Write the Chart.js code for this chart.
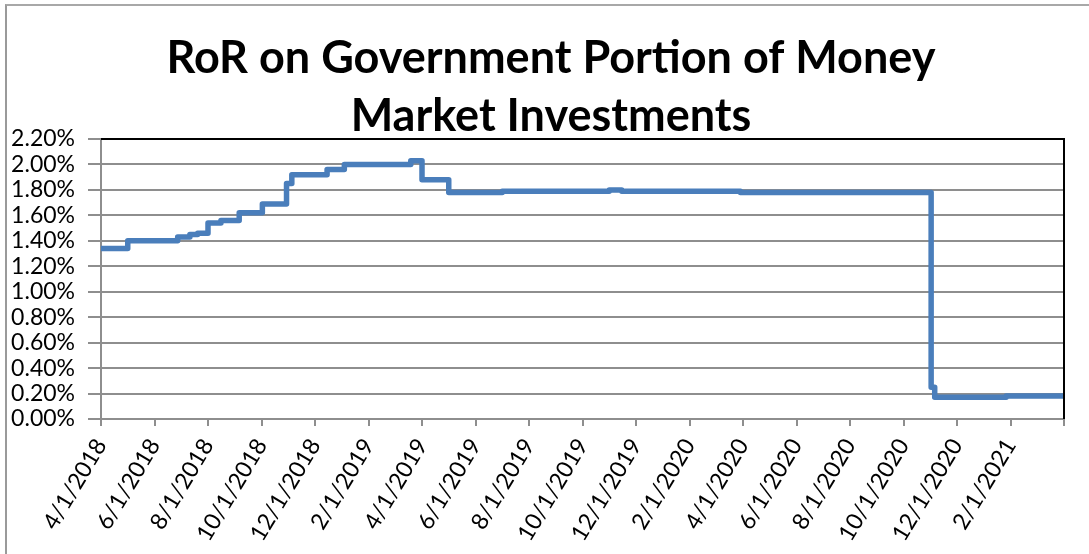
<!DOCTYPE html>
<html>
<head>
<meta charset="utf-8">
<title>RoR on Government Portion of Money Market Investments</title>
<script src="https://cdn.jsdelivr.net/npm/chart.js@4.4.1/dist/chart.umd.min.js"></script>
<style>
	html, body { margin: 0; padding: 0; background: #fff; }
	#wrap { position: relative; width: 1089px; height: 554px; overflow: hidden; }
	#frame {
		position: absolute; left: 5px; top: 4px; width: 1200px; height: 700px;
		border-left: 2px solid #9a9a9a; border-top: 2px solid #a8a8a8;
	}
	#ror-chart { position: absolute; left: 0; top: 0; }
</style>
</head>
<body>
<div id="wrap">
	<div id="frame"></div>
	<canvas id="ror-chart" width="1102" height="554"></canvas>
</div>
<script>
(function() {
	'use strict';

	// Rate changes: each date starts a new rate (percent)
	const rateDates = [
		'2018-04-01', '2018-05-01', '2018-06-27', '2018-07-11', '2018-07-20',
		'2018-08-01', '2018-08-16', '2018-09-06', '2018-10-02', '2018-10-30',
		'2018-11-05', '2018-12-15', '2019-01-04', '2019-03-19', '2019-04-01',
		'2019-05-01', '2019-07-01', '2019-11-01', '2019-11-15', '2020-03-29',
		'2020-11-01', '2020-11-02', '2020-11-06', '2021-01-27', '2021-04-01'
	];
	const rateValues = [
		1.34, 1.40, 1.43, 1.45, 1.46,
		1.54, 1.56, 1.62, 1.69, 1.85,
		1.92, 1.96, 2.00, 2.03, 1.88,
		1.78, 1.79, 1.80, 1.79, 1.78,
		1.78, 0.25, 0.17, 0.18, 0.18
	];

	// Axis settings
	const axisStart = '2018-04-01';
	const axisMonths = 36;
	const monthStep = 2;
	const yMin = 0;
	const yMax = 2.2;
	const yStep = 0.2;

	const titleLines = ['RoR on Government Portion of Money', 'Market Investments'];

	const FONT = 'Lato, "Open Sans", "Liberation Sans", sans-serif';
	const LINE_BLUE = '#4a7ebb';
	const GRID_GRAY = '#8e8e8e';

	/**
	 * Months elapsed since the axis start (fractional)
	 */
	function monthIndex(str) {
		const p = str.split('-').map(Number);
		const s = axisStart.split('-').map(Number);
		const daysInMonth = new Date(p[0], p[1], 0).getDate();
		return (p[0] - s[0]) * 12 + (p[1] - s[1]) + (p[2] - 1) / daysInMonth;
	}

	/**
	 * Month index back to m/1/yyyy label
	 */
	function monthLabel(idx) {
		const s = axisStart.split('-').map(Number);
		const total = (s[1] - 1) + Math.round(idx);
		const year = s[0] + Math.floor(total / 12);
		const month = (total % 12) + 1;
		return month + '/1/' + year;
	}

	// Black plot border on top and right, like the spreadsheet original
	const plotFrame = {
		id: 'plotFrame',
		afterDatasetsDraw(chart) {
			const a = chart.chartArea;
			const ctx = chart.ctx;
			ctx.save();
			ctx.strokeStyle = '#000';
			ctx.lineWidth = 2;
			ctx.beginPath();
			ctx.moveTo(a.left, a.top);
			ctx.lineTo(a.right, a.top);
			ctx.lineTo(a.right, a.bottom);
			ctx.stroke();
			ctx.restore();
		}
	};

	const points = rateDates.map((d, i) => ({ x: monthIndex(d), y: rateValues[i] }));

	new Chart(document.getElementById('ror-chart'), {
		type: 'line',
		data: {
			datasets: [{
				data: points,
				borderColor: LINE_BLUE,
				borderWidth: 5.5,
				stepped: true,
				pointRadius: 0,
				borderJoinStyle: 'round',
				borderCapStyle: 'round',
				fill: false
			}]
		},
		options: {
			responsive: false,
			animation: false,
			layout: {
				padding: 0
			},
			plugins: {
				legend: { display: false },
				tooltip: { enabled: false },
				title: {
					display: true,
					text: titleLines,
					color: '#000',
					font: { family: FONT, size: 45, weight: 'bold', lineHeight: '58px' },
					padding: { top: 29, bottom: -6 }
				}
			},
			scales: {
				x: {
					type: 'linear',
					min: 0,
					max: axisMonths,
					afterFit: function(scale) { scale.height = 135; },
					ticks: {
						stepSize: monthStep,
						autoSkip: false,
						minRotation: 59,
						maxRotation: 59,
						padding: 8,
						color: '#000',
						font: { family: FONT, size: 23 },
						callback: function(v) {
							return v >= axisMonths ? '' : monthLabel(v);
						}
					},
					grid: {
						drawOnChartArea: false,
						drawTicks: true,
						tickLength: 7,
						tickColor: GRID_GRAY,
						lineWidth: 2
					},
					border: { color: GRID_GRAY, width: 2 }
				},
				y: {
					min: yMin,
					max: yMax,
					afterFit: function(scale) { scale.width = 101; },
					ticks: {
						stepSize: yStep,
						autoSkip: false,
						padding: 13,
						color: '#000',
						font: { family: FONT, size: 23 },
						callback: function(v) { return v.toFixed(2) + '%'; }
					},
					grid: {
						color: function(c) {
							return Math.abs(c.tick.value - yMax) < 1e-6 ? '#000' : GRID_GRAY;
						},
						lineWidth: 2,
						tickLength: 13,
						tickColor: GRID_GRAY
					},
					border: { color: GRID_GRAY, width: 2 }
				},
				// empty right-hand box: keeps the plot edge at 1064 while the title centres on the full width
				yRight: {
					type: 'linear',
					position: 'right',
					display: true,
					afterFit: function(scale) { scale.width = 38; },
					ticks: { display: false },
					grid: { display: false, drawTicks: false },
					border: { display: false }
				}
			}
		},
		plugins: [plotFrame]
	});
})();
</script>
</body>
</html>
